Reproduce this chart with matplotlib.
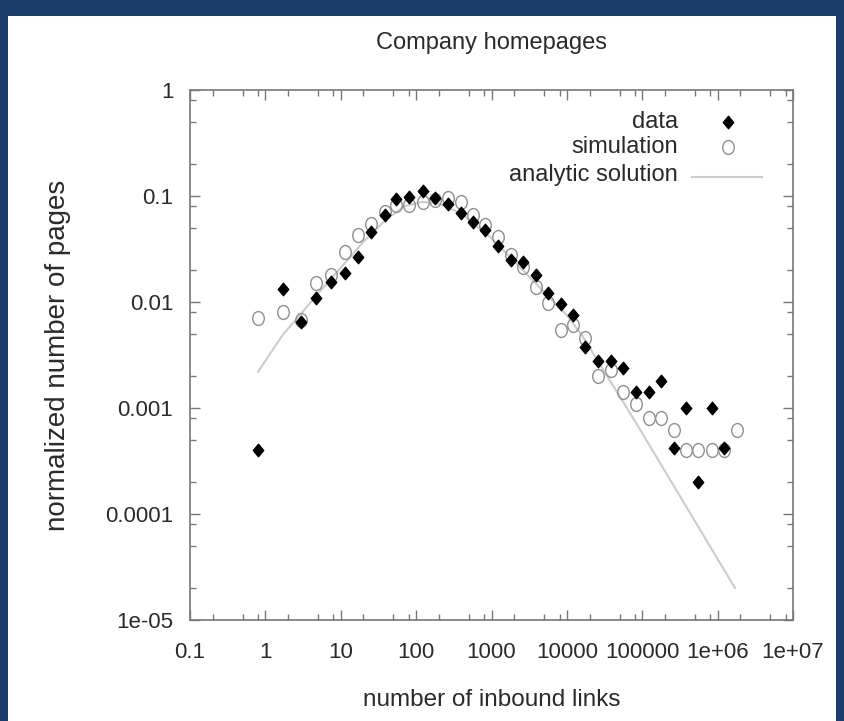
import matplotlib.pyplot as plt
from matplotlib.patches import Rectangle
from matplotlib.path import Path
from matplotlib.transforms import Affine2D
from matplotlib.ticker import LogLocator, FixedLocator, FixedFormatter, NullFormatter

# measured data (filled diamonds)
links = [0.8, 1.71, 2.97, 4.69, 7.41, 11.4, 16.9, 25.2, 38.5, 54, 80, 123, 177,
         264, 393, 566, 817, 1216, 1808, 2608, 3880, 5600, 8320, 12000, 17300,
         25800, 38300, 55300, 82200, 122000, 177000, 262000, 378000, 546000,
         838000, 1210000]
data_frac = [4.0e-4, 0.0133, 0.0065, 0.0109, 0.0154, 0.0188, 0.0266, 0.0458,
             0.0662, 0.0937, 0.098, 0.111, 0.0958, 0.0841, 0.0691, 0.0569,
             0.0478, 0.0338, 0.0249, 0.0238, 0.018, 0.0122, 0.0096, 0.0075,
             0.0038, 0.0028, 0.0028, 0.0024, 0.0014, 0.0014, 0.0018, 4.2e-4,
             0.001, 2.0e-4, 0.001, 4.2e-4]

# simulation (open circles)
sim_links = [0.8, 1.71, 2.97, 4.69, 7.41, 11.4, 16.9, 25.2, 38.5, 54, 80, 123,
             177, 264, 393, 566, 817, 1216, 1808, 2608, 3880, 5600, 8320,
             12000, 17300, 25800, 38300, 55300, 82200, 122000, 177000, 262000,
             378000, 546000, 838000, 1210000, 1800000]
sim_frac = [0.0071, 0.0081, 0.0068, 0.0151, 0.018, 0.0296, 0.0428, 0.055, 0.07,
            0.082, 0.082, 0.0877, 0.092, 0.096, 0.088, 0.066, 0.053, 0.041,
            0.028, 0.0216, 0.0139, 0.0098, 0.0054, 0.0061, 0.0046, 0.002,
            0.0023, 0.0014, 0.0011, 8.0e-4, 8.0e-4, 6.2e-4, 4.0e-4, 4.0e-4,
            4.0e-4, 4.0e-4, 6.2e-4]

# analytic solution (light grey curve)
fit_links = [0.8, 1.7, 3, 5, 10, 20, 40, 70, 120, 200, 400, 1000, 3000, 10000,
             16300, 85000, 1700000]
fit_frac = [0.0022, 0.0049, 0.0078, 0.012, 0.021, 0.037, 0.06, 0.08, 0.088,
            0.085, 0.068, 0.04, 0.018, 0.0075, 0.0047, 0.0007, 2.0e-5]

x_ticks = [0.1, 1, 10, 100, 1000, 1e4, 1e5, 1e6, 1e7]
x_tick_labels = ["0.1", "1", "10", "100", "1000", "10000", "100000", "1e+06", "1e+07"]
y_ticks = [1e-5, 1e-4, 1e-3, 1e-2, 0.1, 1]
y_tick_labels = ["1e-05", "0.0001", "0.001", "0.01", "0.1", "1"]

plt.rcParams["font.family"] = ["Liberation Sans", "DejaVu Sans"]

# the original picture is a bit stretched vertically, so are its symbols
tall_diamond = Path([(0, 1.2), (1, 0), (0, -1.2), (-1, 0), (0, 1.2)],
                    [Path.MOVETO, Path.LINETO, Path.LINETO, Path.LINETO, Path.CLOSEPOLY])
tall_circle = Affine2D().scale(1, 1.2).transform_path(Path.unit_circle())

fig = plt.figure(figsize=(8.44, 7.21), dpi=100, facecolor="#1c3d6b")
# white picture area on the dark slide background
fig.patches.append(Rectangle((8 / 844, 0), 828 / 844, 705 / 721,
                             transform=fig.transFigure, facecolor="white",
                             edgecolor="none", zorder=-5))

ax = fig.add_axes([0.2251, 0.1401, 0.7145, 0.7351])
ax.set_facecolor("white")
ax.set_zorder(2)

ax.plot(fit_links, fit_frac, color="#cccccc", lw=1.5, zorder=1)
ax.plot(sim_links, sim_frac, ls="none", marker=tall_circle, ms=10, mfc="none",
        mec="#8f8f8f", mew=1.0, zorder=2)
ax.plot(links, data_frac, ls="none", marker=tall_diamond, ms=9, color="black", zorder=3)

ax.set_xscale("log")
ax.set_yscale("log")
ax.set_xlim(0.1, 1e7)
ax.set_ylim(1e-5, 1)

ax.xaxis.set_major_locator(FixedLocator(x_ticks))
ax.xaxis.set_major_formatter(FixedFormatter(x_tick_labels))
ax.yaxis.set_major_locator(FixedLocator(y_ticks))
ax.yaxis.set_major_formatter(FixedFormatter(y_tick_labels))
ax.xaxis.set_minor_locator(LogLocator(base=10, subs=(2, 5, 8), numticks=20))
ax.yaxis.set_minor_locator(LogLocator(base=10, subs=(2, 5, 8), numticks=20))
ax.xaxis.set_minor_formatter(NullFormatter())
ax.yaxis.set_minor_formatter(NullFormatter())

ax.tick_params(which="both", direction="in", top=True, right=True,
               color="#777777", labelsize=16, labelcolor="#2a2a2a")
ax.tick_params(which="major", length=7, width=1)
ax.tick_params(which="minor", length=4, width=1)
ax.tick_params(axis="x", pad=16)
ax.tick_params(axis="y", pad=12)
for sp in ax.spines.values():
    sp.set_color("#777777")
    sp.set_linewidth(1.2)

ax.set_xlabel("number of inbound links", fontsize=17.5, color="#2a2a2a")
ax.set_ylabel("normalized number of pages", fontsize=20, color="#2a2a2a")
ax.xaxis.set_label_coords(0.5, -0.130)
ax.yaxis.set_label_coords(-0.197, 0.5)
fig.text(0.5824, 0.94, "Company homepages", ha="center", va="center",
         fontsize=17, color="#2a2a2a")

# legend in gnuplot style: text right aligned, sample on the right
ax.text(0.809, 0.94, "data", ha="right", va="center", fontsize=17,
        color="#2a2a2a", transform=ax.transAxes)
ax.text(0.809, 0.892, "simulation", ha="right", va="center", fontsize=17,
        color="#2a2a2a", transform=ax.transAxes)
ax.text(0.809, 0.840, "analytic solution", ha="right", va="center", fontsize=17,
        color="#2a2a2a", transform=ax.transAxes)
ax.plot([0.892], [0.94], ls="none", marker=tall_diamond, ms=9, color="black",
        transform=ax.transAxes)
ax.plot([0.892], [0.892], ls="none", marker=tall_circle, ms=10, mfc="none",
        mec="#8f8f8f", mew=1.0, transform=ax.transAxes)
ax.plot([0.833, 0.949], [0.836, 0.836], color="#cccccc", lw=1.5,
        transform=ax.transAxes)

fig.savefig("out.png", dpi=100, facecolor=fig.get_facecolor())
